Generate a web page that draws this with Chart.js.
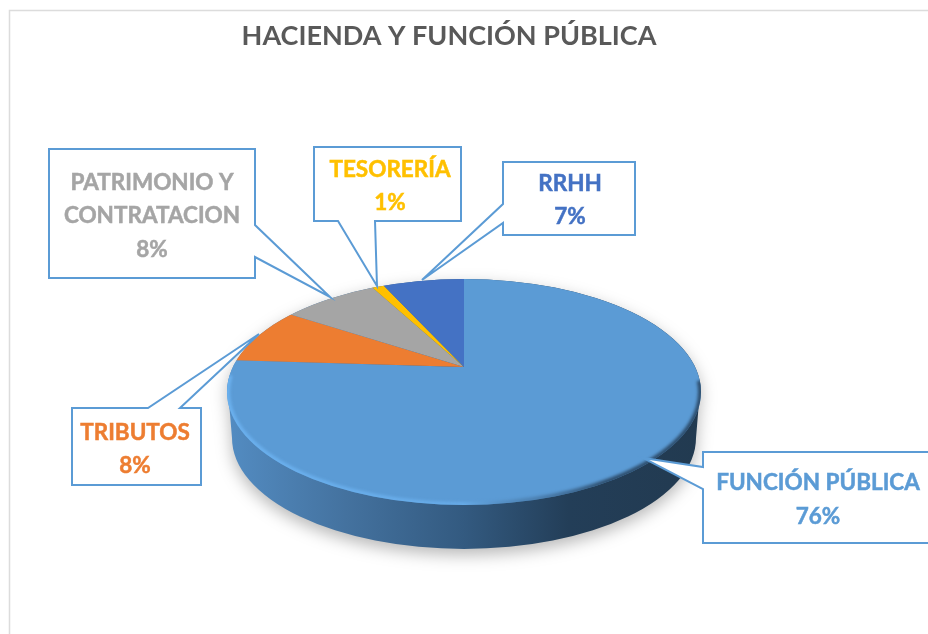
<!DOCTYPE html>
<html>
<head>
<meta charset="utf-8">
<style>html,body{margin:0;padding:0;background:#fff;overflow:hidden}canvas{display:block}</style>
<script src="https://cdn.jsdelivr.net/npm/chart.js@4"></script>
</head>
<body>
<canvas id="c" width="928" height="634"></canvas>
<script>
const chartTitle = 'HACIENDA Y FUNCIÓN PÚBLICA';
const categories = ['FUNCIÓN PÚBLICA', 'TRIBUTOS', 'PATRIMONIO Y CONTRATACION', 'TESORERÍA', 'RRHH'];
const values = [76, 8, 8, 1, 7];
const sliceColors = ['#5b9bd5', '#ed7d31', '#a5a5a5', '#ffc000', '#4472c4'];
const textColors = ['#5b9bd5', '#ed7d31', '#a5a5a5', '#ffc000', '#4472c4'];

const FONT = 'Lato, Carlito, sans-serif';
const APEX = {x: 464, y: 367};
const TOP = {x: 464, y: 392, rx: 237, ry: 113};
const BOT = {x: 464, y: 438, rx: 232, ry: 111};
const FLAT = TOP.ry / TOP.rx;

// per-slice callout: outline and centre of text
const callouts = [
  {pts: [[703,452],[930,452],[930,543],[703,543],[703,489],[643,458],[703,467]], cx: 818, ys: [483,517], lines: ['FUNCIÓN PÚBLICA']},
  {pts: [[72,408],[148,408],[259,334],[180,408],[201,408],[201,485],[72,485]], cx: 135, ys: [433,466], lines: ['TRIBUTOS']},
  {pts: [[49,149],[255,149],[255,225],[330,297],[255,257],[255,278],[49,278]], cx: 152, ys: [183,216,250], lines: ['PATRIMONIO Y','CONTRATACION']},
  {pts: [[314,147],[461,147],[461,221],[375,221],[377,286],[338,221],[314,221]], cx: 390, ys: [170,203], lines: ['TESORERÍA']},
  {pts: [[503,162],[635,162],[635,235],[503,235],[503,223],[422,280],[503,204]], cx: 570, ys: [184,217], lines: ['RRHH']}
];

const total = values.reduce((a, b) => a + b, 0);

function wallPath(ctx) {
  ctx.beginPath();
  ctx.moveTo(TOP.x - TOP.rx + 2, TOP.y + 10);
  ctx.lineTo(BOT.x - BOT.rx, BOT.y);
  ctx.ellipse(BOT.x, BOT.y, BOT.rx, BOT.ry, 0, Math.PI, 0, true);
  ctx.lineTo(TOP.x + TOP.rx - 2, TOP.y + 10);
  ctx.ellipse(TOP.x, TOP.y, TOP.rx, TOP.ry, 0, 0, Math.PI, true);
  ctx.closePath();
}

const pie3d = {
  id: 'pie3d',
  beforeDraw(chart) {
    const ctx = chart.ctx;
    ctx.save();
    ctx.fillStyle = '#fff';
    ctx.fillRect(0, 0, chart.width, chart.height);
    ctx.strokeStyle = '#dcdcdc';
    ctx.lineWidth = 1.5;
    ctx.strokeRect(9.5, 10.5, 1000, 1000);
    ctx.restore();
  },
  beforeDatasetsDraw(chart) {
    const ctx = chart.ctx;
    const arc = chart.getDatasetMeta(0).data[0];
    // wall + soft shadow
    ctx.save();
    ctx.shadowColor = 'rgba(0,0,0,0.28)';
    ctx.shadowBlur = 16;
    ctx.shadowOffsetY = 6;
    const g = ctx.createLinearGradient(TOP.x - TOP.rx, 0, TOP.x + TOP.rx, 0);
    g.addColorStop(0, '#538cc2');
    g.addColorStop(0.25, '#44729f');
    g.addColorStop(0.5, '#335a80');
    g.addColorStop(0.72, '#233e58');
    g.addColorStop(1, '#223a50');
    ctx.fillStyle = g;
    wallPath(ctx);
    ctx.fill();
    ctx.restore();
    // top face: slices flattened about the apex and cut by the rim
    ctx.save();
    ctx.beginPath();
    ctx.ellipse(TOP.x, TOP.y, TOP.rx, TOP.ry, 0, 0, Math.PI * 2);
    ctx.clip();
    ctx.translate(APEX.x, APEX.y);
    ctx.scale(1, FLAT);
    ctx.translate(-arc.x, -arc.y);
  },
  afterDatasetsDraw(chart) {
    const ctx = chart.ctx;
    ctx.restore();
    // bevel along the front rim
    ctx.save();
    ctx.beginPath();
    ctx.ellipse(TOP.x, TOP.y, TOP.rx, TOP.ry, 0, 0, Math.PI * 2);
    ctx.clip();
    const h = ctx.createLinearGradient(TOP.x - TOP.rx, 0, TOP.x + TOP.rx, 0);
    h.addColorStop(0, 'rgba(108,178,240,0.95)');
    h.addColorStop(0.5, 'rgba(108,178,240,0.7)');
    h.addColorStop(0.64, 'rgba(60,100,140,0.45)');
    h.addColorStop(0.8, 'rgba(34,58,82,0.8)');
    h.addColorStop(1, 'rgba(34,58,82,0.8)');
    ctx.strokeStyle = h;
    ctx.lineWidth = 5;
    ctx.filter = 'blur(1.5px)';
    ctx.beginPath();
    ctx.ellipse(TOP.x, TOP.y, TOP.rx - 0.5, TOP.ry - 0.5, 0, -0.1, Math.PI + 0.15);
    ctx.stroke();
    ctx.restore();
    // callouts
    ctx.save();
    ctx.textAlign = 'center';
    ctx.textBaseline = 'middle';
    callouts.forEach((c, i) => {
      ctx.beginPath();
      c.pts.forEach((p, k) => k ? ctx.lineTo(p[0], p[1]) : ctx.moveTo(p[0], p[1]));
      ctx.closePath();
      ctx.fillStyle = '#fff';
      ctx.fill();
      ctx.strokeStyle = '#5b9bd5';
      ctx.lineWidth = 2;
      ctx.lineJoin = 'miter';
      ctx.stroke();
      ctx.fillStyle = textColors[i];
      ctx.strokeStyle = textColors[i];
      ctx.lineWidth = 0.5;
      ctx.font = 'bold 22.5px ' + FONT;
      const pct = Math.round(values[i] / total * 100) + '%';
      c.lines.concat([pct]).forEach((t, k) => {
        ctx.fillText(t, c.cx, c.ys[k]);
        ctx.strokeText(t, c.cx, c.ys[k]);
      });
    });
    ctx.restore();
  }
};

new Chart(document.getElementById('c'), {
  type: 'pie',
  data: {
    labels: categories,
    datasets: [{data: values, backgroundColor: sliceColors, borderWidth: 0, clip: false}]
  },
  options: {
    responsive: false,
    animation: false,
    layout: {padding: {left: 0, right: 30, top: 0, bottom: 0}},
    plugins: {
      legend: {display: false},
      tooltip: {enabled: false},
      title: {
        display: true,
        text: chartTitle,
        color: '#595959',
        font: {family: FONT, size: 27, weight: 'bold'},
        padding: {top: 20, bottom: 0}
      }
    }
  },
  plugins: [pie3d]
});
</script>
</body>
</html>
